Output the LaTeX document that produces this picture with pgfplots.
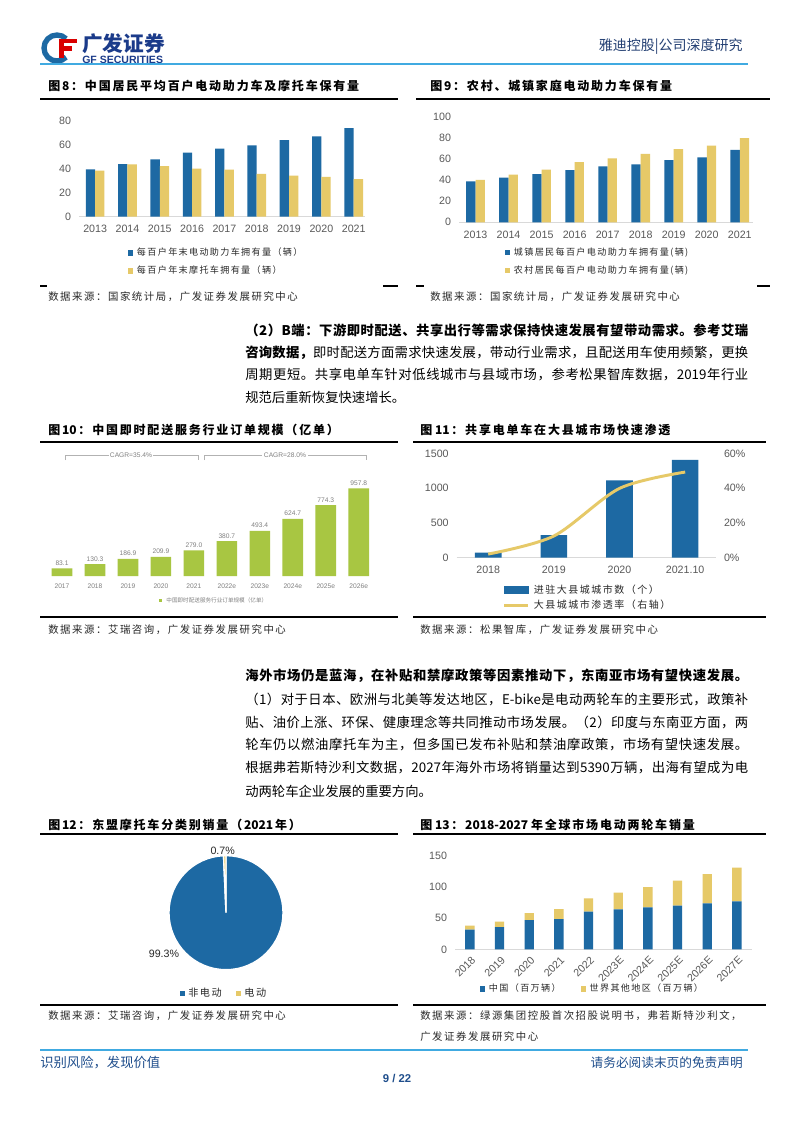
\documentclass[border=0pt]{standalone}
\usepackage{fontspec}
\setmainfont{Noto Sans CJK SC}
\newfontfamily\arial{Liberation Sans}
\usepackage{pgfplots}
\pgfplotsset{compat=1.18}
\newdimen\cjkgap \cjkgap=0pt
\newcommand\cjksp{\cjkgap=0.15em\relax}
\newXeTeXintercharclass\cjkclass
\makeatletter
\count@="3000 \loop\ifnum\count@<"3040 \XeTeXcharclass\count@=\cjkclass \advance\count@ 1 \repeat
\count@="4E00 \loop\ifnum\count@<"A000 \XeTeXcharclass\count@=\cjkclass \advance\count@ 1 \repeat
\count@="FF00 \loop\ifnum\count@<"FFF0 \XeTeXcharclass\count@=\cjkclass \advance\count@ 1 \repeat
\makeatother
\XeTeXinterchartokenstate=1
\XeTeXinterchartoks \cjkclass \cjkclass = {\hskip\cjkgap plus 2pt\relax}
\XeTeXinterchartoks 0 \cjkclass = {\hskip\cjkgap plus 2pt\relax}
\XeTeXinterchartoks \cjkclass 0 = {\hskip\cjkgap plus 2pt\relax}

\definecolor{gblue}{RGB}{29,105,163}
\definecolor{ggold}{RGB}{230,201,104}
\definecolor{ggreen}{RGB}{168,198,66}
\definecolor{tgray}{RGB}{89,89,89}
\definecolor{lgray}{RGB}{217,217,217}
\definecolor{hblue}{RGB}{64,170,225}
\definecolor{navy}{RGB}{31,78,140}
\definecolor{lnavy}{RGB}{36,64,115}
\definecolor{logoblue}{RGB}{27,59,138}
\definecolor{txt}{RGB}{40,40,40}

\newcommand\ttl{\fontsize{9}{10}\selectfont\bfseries\cjksp}
\newcommand\src{\fontsize{7.8}{9}\selectfont\cjksp}
\newcommand\body{\fontsize{10}{12}\selectfont}

\pgfplotsset{
  gfbase/.style={
    scale only axis, clip=false,
    axis x line*=bottom, axis y line*=left,
    y axis line style={draw=none},
    x axis line style={draw=lgray, line width=1pt},
    major tick length=0pt,
    tick style={draw=none},
    ticklabel style={font=\arial\fontsize{8}{9.6}\selectfont, text=tgray},
    xticklabel style={yshift=-3pt},
    yticklabel style={xshift=-2.5pt},
    /pgf/number format/assume math mode=true,
    /pgf/number format/1000 sep={},
    legend style={draw=none, fill=none, font=\fontsize{6.8}{8}\selectfont\cjksp, text=txt,
      inner sep=0pt, outer sep=0pt, row sep=5pt,
      nodes={inner sep=1pt, text height=5.5pt, text depth=1pt},
      /tikz/every odd column/.append style={column sep=2pt}},
    legend cell align=left,
  },
  sq/.style={legend image code/.code={\fill[#1] (0pt,-1.9pt) rectangle (3.8pt,1.9pt);}},
}

\def\pieA{99.3}
\def\pieB{0.7}
\pgfmathsetmacro\angA{90-3.6*\pieA}

\begin{document}
\begin{tikzpicture}
\begin{scope}[x=0.75pt,y=-0.75pt]
\useasboundingbox (0,0) rectangle (794,1123);
\fill[white] (0,0) rectangle (794,1123);
% ---------- header ----------
\draw[gblue, line width=4pt] (66.2,57.2) arc[start angle=45, end angle=315, radius=13];
\fill[red!85!black] (59,39) rectangle (77,43.5);
\fill[red!85!black] (59,46.5) rectangle (72,51);
\fill[red!85!black] (59,39) rectangle (63.5,58);
\node[anchor=west, inner sep=0, text=logoblue] at (82,44) {\fontsize{15.5}{16}\selectfont\bfseries 广发证券};
\node[anchor=west, inner sep=0, text=logoblue] at (82,60) {\arial\fontsize{7.9}{8}\selectfont\bfseries GF SECURITIES};
\node[anchor=east, inner sep=0, text=lnavy] at (743,47) {\fontsize{10.5}{12}\selectfont 雅迪控股|公司深度研究};
\draw[hblue, line width=1.5pt] (40,64)--(748,64);
% ---------- titles ----------
\node[anchor=west, inner sep=0] at (48,86) {\ttl 图8：中国居民平均百户电动助力车及摩托车保有量};
\node[anchor=west, inner sep=0] at (430,86) {\ttl 图9：农村、城镇家庭电动助力车保有量};
\draw[line width=0.9pt] (40,99)--(398,99) (416,99)--(770,99);
\draw[line width=0.9pt] (40,286)--(47,286) (383,286)--(398,286) (416,286)--(424,286) (757,286)--(770,286);
\node[anchor=west, inner sep=0, text=txt] at (48,297) {\src 数据来源：国家统计局，广发证券发展研究中心};
\node[anchor=west, inner sep=0, text=txt] at (430,297) {\src 数据来源：国家统计局，广发证券发展研究中心};
% ---------- paragraph 1 ----------
\node[anchor=west, inner sep=0] at (245,330) {\body\bfseries\makebox[377.25pt][s]{（2）B端：下游即时配送、共享出行等需求保持快速发展有望带动需求。参考艾瑞}};
\node[anchor=west, inner sep=0] at (245,352.5) {\body\makebox[377.25pt][s]{{\bfseries 咨询数据，}即时配送方面需求快速发展，带动行业需求，且配送用车使用频繁，更换}};
\node[anchor=west, inner sep=0] at (245,375) {\body\makebox[377.25pt][s]{周期更短。共享电单车针对低线城市与县域市场，参考松果智库数据，2019年行业}};
\node[anchor=west, inner sep=0] at (245,397.5) {\body 规范后重新恢复快速增长。};
% ---------- titles row 2 ----------
\node[anchor=west, inner sep=0] at (48,430) {\ttl 图10：中国即时配送服务行业订单规模（亿单）};
\node[anchor=west, inner sep=0] at (420,430) {\ttl 图 11：共享电单车在大县城市场快速渗透};
\draw[line width=0.9pt] (40,442)--(398,442) (413,442)--(766,442);
\draw[line width=0.9pt] (40,617)--(398,617) (413,617)--(766,617);
\node[anchor=west, inner sep=0, text=txt] at (48,630) {\src 数据来源：艾瑞咨询，广发证券发展研究中心};
\node[anchor=west, inner sep=0, text=txt] at (420,630) {\src 数据来源：松果智库，广发证券发展研究中心};
% ---------- paragraph 2 ----------
\node[anchor=west, inner sep=0] at (245,676) {\body\bfseries\makebox[377.25pt][s]{海外市场仍是蓝海，在补贴和禁摩政策等因素推动下，东南亚市场有望快速发展。}};
\node[anchor=west, inner sep=0] at (245,699) {\body\makebox[377.25pt][s]{（1）对于日本、欧洲与北美等发达地区，E-bike是电动两轮车的主要形式，政策补}};
\node[anchor=west, inner sep=0] at (245,722) {\body\makebox[377.25pt][s]{贴、油价上涨、环保、健康理念等共同推动市场发展。（2）印度与东南亚方面，两}};
\node[anchor=west, inner sep=0] at (245,745) {\body\makebox[377.25pt][s]{轮车仍以燃油摩托车为主，但多国已发布补贴和禁油摩政策，市场有望快速发展。}};
\node[anchor=west, inner sep=0] at (245,768) {\body\makebox[377.25pt][s]{根据弗若斯特沙利文数据，2027年海外市场将销量达到5390万辆，出海有望成为电}};
\node[anchor=west, inner sep=0] at (245,791) {\body 动两轮车企业发展的重要方向。};
% ---------- titles row 3 ----------
\node[anchor=west, inner sep=0] at (48,825) {\ttl 图12：东盟摩托车分类别销量（2021年）};
\node[anchor=west, inner sep=0] at (420,825) {\ttl 图 13：2018-2027 年全球市场电动两轮车销量};
\draw[line width=0.9pt] (40,834)--(398,834) (413,834)--(766,834);
\draw[line width=0.9pt] (40,1005)--(398,1005) (413,1005)--(766,1005);
\node[anchor=west, inner sep=0, text=txt] at (48,1016) {\src 数据来源：艾瑞咨询，广发证券发展研究中心};
\node[anchor=west, inner sep=0, text=txt] at (420,1016) {\src 数据来源：绿源集团控股首次招股说明书，弗若斯特沙利文，};
\node[anchor=west, inner sep=0, text=txt] at (420,1037) {\src 广发证券发展研究中心};
% ---------- footer ----------
\draw[hblue, line width=1.5pt] (40,1050)--(748,1050);
\node[anchor=west, inner sep=0, text=navy] at (40,1063) {\fontsize{10}{12}\selectfont 识别风险，发现价值};
\node[anchor=east, inner sep=0, text=navy] at (743,1063) {\fontsize{9.5}{12}\selectfont 请务必阅读末页的免责声明};
\node[inner sep=0, text=navy] at (397,1078) {\arial\fontsize{8.5}{10}\selectfont\bfseries 9 / 22};
\end{scope}

% ================= Chart 8 =================
\begin{axis}[gfbase, at={(59.25pt,-162.53pt)}, anchor=south west,
  width=214.5pt, height=72pt,
  xmin=2012.5, xmax=2021.35, ymin=0, ymax=80,
  ytick={0,20,40,60,80}, xtick={2013,2014,2015,2016,2017,2018,2019,2020,2021},
  ybar=0pt, bar width=7pt,
  legend style={at={(0.171,-0.319)}, anchor=north west}]
\addplot[fill=gblue, draw=none, sq=gblue] coordinates {(2013,39.4)(2014,43.9)(2015,47.8)(2016,53.3)(2017,56.7)(2018,59.4)(2019,63.9)(2020,66.9)(2021,73.9)};
\addplot[fill=ggold, draw=none, sq=ggold] coordinates {(2013,38.3)(2014,43.6)(2015,42.2)(2016,40.0)(2017,39.2)(2018,35.6)(2019,34.2)(2020,33.1)(2021,31.4)};
\legend{每百户年末电动助力车拥有量（辆）,每百户年末摩托车拥有量（辆）}
\end{axis}

% ================= Chart 9 =================
\begin{axis}[gfbase, at={(344.25pt,-166.73pt)}, anchor=south west,
  width=220.5pt, height=79.2pt,
  xmin=2012.5, xmax=2021.4, ymin=0, ymax=100,
  ytick={0,20,40,60,80,100}, xtick={2013,2014,2015,2016,2017,2018,2019,2020,2021},
  ybar=0pt, bar width=7pt,
  legend style={at={(0.156,-0.234)}, anchor=north west}]
\addplot[fill=gblue, draw=none, sq=gblue] coordinates {(2013,38.8)(2014,42.3)(2015,45.7)(2016,49.5)(2017,53.0)(2018,54.9)(2019,59.0)(2020,61.5)(2021,68.5)};
\addplot[fill=ggold, draw=none, sq=ggold] coordinates {(2013,40.1)(2014,45.1)(2015,49.8)(2016,57.1)(2017,60.6)(2018,64.7)(2019,69.4)(2020,72.6)(2021,79.8)};
\legend{城镇居民每百户电动助力车拥有量(辆),农村居民每百户电动助力车拥有量(辆)}
\end{axis}

% ================= Chart 10 =================
\begin{axis}[gfbase, at={(34.13pt,-432pt)}, anchor=south west,
  width=247.3pt, height=68.7pt,
  xmin=-0.5, xmax=9.5, ymin=0, ymax=1000,
  x axis line style={draw=none}, ytick=\empty,
  xtick={0,1,2,3,4,5,6,7,8,9},
  xticklabels={2017,2018,2019,2020,2021,2022e,2023e,2024e,2025e,2026e},
  xticklabel style={font=\arial\fontsize{5}{6}\selectfont, text=gray, yshift=1pt},
  ybar, bar width=15.5pt,
  nodes near coords={\pgfmathprintnumber[fixed,fixed zerofill,precision=1,assume math mode=true]{\pgfplotspointmeta}},
  every node near coord/.append style={font=\arial\fontsize{5}{6}\selectfont, text=gray, inner sep=1pt, yshift=1pt},
  legend style={at={(0.344,-0.22)}, anchor=north west, font=\fontsize{4.2}{5}\selectfont, text=gray,
     nodes={inner sep=1pt, text height=3.5pt, text depth=0.8pt}}]
\addplot[fill=ggreen, draw=none, legend image code/.code={\fill[ggreen] (0pt,-1.3pt) rectangle (2.6pt,1.3pt);}] coordinates {(0,83.1)(1,130.3)(2,186.9)(3,209.9)(4,279.0)(5,380.7)(6,493.4)(7,624.7)(8,774.3)(9,957.8)};
\legend{中国即时配送服务行业订单规模（亿单）}
\end{axis}

% ================= Chart 11 =================
\begin{axis}[gfbase, at={(342.5pt,-418.3pt)}, anchor=south west,
  width=194.5pt, height=78.2pt,
  xmin=-0.48, xmax=3.47, ymin=0, ymax=1500,
  ytick={0,500,1000,1500}, xtick={0,1,2,3},
  xticklabels={2018,2019,2020,2021.10},
  ybar, bar width=20pt]
\addplot[fill=gblue, draw=none] coordinates {(0,72)(1,326)(2,1112)(3,1409)};
\end{axis}
\begin{axis}[gfbase, at={(342.5pt,-418.3pt)}, anchor=south west,
  width=194.5pt, height=78.2pt,
  xmin=-0.48, xmax=3.47, ymin=0, ymax=60,
  axis x line=none, axis y line*=right, xtick=\empty,
  ytick={0,20,40,60}, yticklabel={\pgfmathprintnumber{\tick}\%},
  yticklabel style={xshift=5pt},
  legend style={at={(0.1786,-0.249)}, anchor=north west, row sep=2.3pt,
     font=\fontsize{7.5}{9}\selectfont\cjksp,
     nodes={inner sep=1pt, text height=6pt, text depth=1.5pt}}]
\addlegendimage{legend image code/.code={\fill[gblue] (0pt,-2.5pt) rectangle (18pt,2.5pt);}}
\addlegendentry{进驻大县城城市数（个）}
\addplot[ggold, line width=2.2pt, smooth, legend image code/.code={\draw[ggold, line width=2.2pt] (0pt,0pt)--(18pt,0pt);}] coordinates {(0,2.1)(1,12.5)(2,39.9)(3,49.3)};
\addlegendentry{大县城城市渗透率（右轴）}
\end{axis}

% ================= Chart 12 (pie) =================
\begin{axis}[scale only axis, hide axis, clip=false, at={(169.5pt,-684.5pt)}, anchor=center,
  width=111.15pt, height=111.15pt, xmin=-1.3, xmax=1.3, ymin=-1.3, ymax=1.3,
  legend columns=2,
  legend style={draw=none, fill=none, at={(0.19,0.0)}, anchor=north west,
     font=\fontsize{7.6}{9}\selectfont\cjksp, text=txt, inner sep=0pt,
     nodes={inner sep=1pt, text height=6pt, text depth=1.5pt},
     /tikz/every odd column/.append style={column sep=2pt},
     /tikz/every even column/.append style={column sep=10pt}}]
\fill[gblue, draw=white, line width=1pt] (axis cs:0,0) -- (axis cs:0,1) arc[start angle=90, end angle=\angA, radius=42.75pt] -- cycle;
\fill[ggold, draw=white, line width=1pt] (axis cs:0,0) -- (axis cs:{cos(\angA)},{sin(\angA)}) arc[start angle=\angA+360, end angle=90, radius=42.75pt] -- cycle;
\addlegendimage{legend image code/.code={\fill[gblue] (0pt,-1.3pt) rectangle (2.6pt,1.3pt);}}
\addlegendentry{非电动}
\addlegendimage{legend image code/.code={\fill[ggold] (0pt,-1.3pt) rectangle (2.6pt,1.3pt);}}
\addlegendentry{电动}
\end{axis}

% ================= Chart 13 =================
\begin{axis}[gfbase, at={(341.25pt,-712pt)}, anchor=south west,
  width=222.5pt, height=70.2pt,
  xmin=-0.5, xmax=9.5, ymin=0, ymax=150,
  ytick={0,50,100,150}, xtick={0,1,2,3,4,5,6,7,8,9},
  xticklabels={2018,2019,2020,2021,2022,2023E,2024E,2025E,2026E,2027E},
  xticklabel style={rotate=45, anchor=north east, inner sep=0.5pt, yshift=-1pt},
  ybar stacked, bar width=7pt,
  legend columns=2,
  legend style={at={(0.084,-0.363)}, anchor=north west,
     /tikz/every even column/.append style={column sep=14pt}}]
\addplot[fill=gblue, draw=none, sq=gblue] coordinates {(0,31.5)(1,35.8)(2,47.0)(3,48.6)(4,60.3)(5,64.1)(6,67.3)(7,69.9)(8,73.7)(9,76.9)};
\addplot[fill=ggold, draw=none, sq=ggold] coordinates {(0,6.4)(1,8.5)(2,11.2)(3,16.0)(4,21.4)(5,26.7)(6,32.5)(7,40.1)(8,47.0)(9,53.9)};
\legend{中国（百万辆）,世界其他地区（百万辆）}
\end{axis}

% ---------- annotations ----------
\begin{scope}[x=0.75pt,y=-0.75pt]
\draw[gray!60, line width=0.5pt] (65,460)--(65,455)--(109,455) (153,455)--(198,455)--(198,460);
\node[inner sep=0, text=gray] at (131,455) {\arial\fontsize{5}{6}\selectfont CAGR=35.4\%};
\draw[gray!60, line width=0.5pt] (204,460)--(204,455)--(262,455) (308,455)--(366,455)--(366,460);
\node[inner sep=0, text=gray] at (285,455) {\arial\fontsize{5}{6}\selectfont CAGR=28.0\%};
\node[inner sep=0, text=txt] at (222.7,850.7) {\arial\fontsize{8}{9}\selectfont 0.7\%};
\node[inner sep=0, text=txt] at (164,954) {\arial\fontsize{8}{9}\selectfont 99.3\%};
\end{scope}
\end{tikzpicture}
\end{document}
